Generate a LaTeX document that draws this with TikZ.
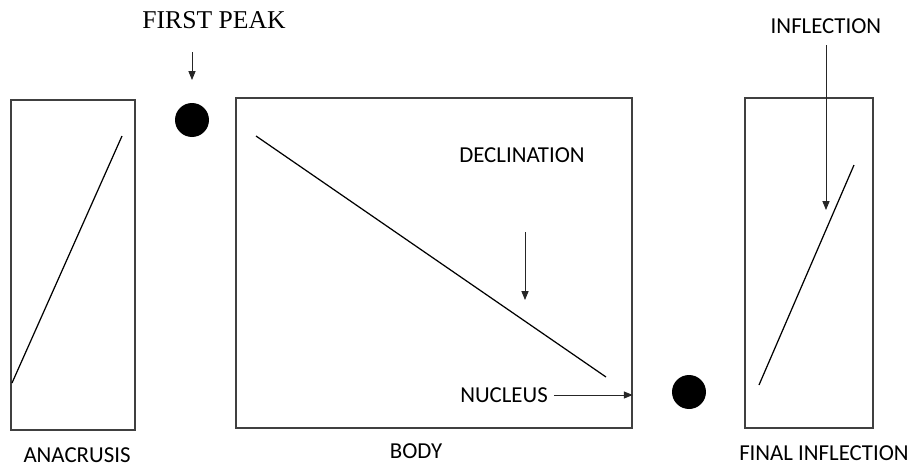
\documentclass[tikz,border=0pt]{standalone}
\usepackage{fontspec}
\setmainfont{Carlito}
\newfontfamily\peakfont{Liberation Serif}
\usetikzlibrary{arrows.meta, positioning}

\begin{document}
\begin{tikzpicture}[
  x=0.02cm, y=-0.02cm,
  font=\fontsize{13}{15}\selectfont,
  panel/.style={draw=black!75, line width=0.8pt, rectangle, inner sep=0pt,
                minimum height=6.6cm},
  contour/.style={draw=black, line width=0.7pt},
  peak/.style={circle, fill=black, inner sep=0pt, minimum size=0.68cm},
  arr/.style={-{Triangle[length=5pt, width=4pt]}, black!85, line width=0.5pt},
]
\useasboundingbox (0,0) rectangle (914,467);

% boxes
\node[panel, minimum width=2.48cm] (ana)  at (73,265)  {};
\node[panel, minimum width=7.92cm] (body) at (434,263) {};
\node[panel, minimum width=2.56cm] (fin)  at (809,263) {};

% labels
\node (lana)  at (77,455)  {ANACRUSIS};
\node (lbody) at (416,451) {BODY};
\node (lfin)  at (824,453) {FINAL INFLECTION};
\node (decl)  at (522,155) {DECLINATION};
\node (nuc)   at (504,395) {NUCLEUS};
\node (infl)  at (826,26)  {INFLECTION};
\node[font=\peakfont\fontsize{14.6}{16}\selectfont] (first) at (214,20) {FIRST PEAK};

% peaks
\node[peak] (dot1) at (192,120) {};
\node[peak] (dot2) at (689,392) {};

% contours
\coordinate (anaLow)  at (12,383);
\coordinate (anaHigh) at (122,136);
\coordinate (bodyHigh) at (256,136);
\coordinate (bodyLow)  at (606,377);
\coordinate (finLow)  at (759,385);
\coordinate (finHigh) at (854,165);
\draw[contour] (anaLow)  -- (anaHigh);
\draw[contour] (bodyHigh) -- (bodyLow);
\draw[contour] (finLow)  -- (finHigh);

% pointers
\coordinate (firstTip) at (192,80);
\coordinate (declTip)  at (525,300);
\coordinate (inflTip)  at (826,210);
\draw[arr] (192,52) -- (firstTip);
\draw[arr] (525,232) -- (declTip);
\draw[arr] (826,45) -- (inflTip);
\draw[arr] (nuc.east) -- (body.east |- nuc);
\end{tikzpicture}
\end{document}
